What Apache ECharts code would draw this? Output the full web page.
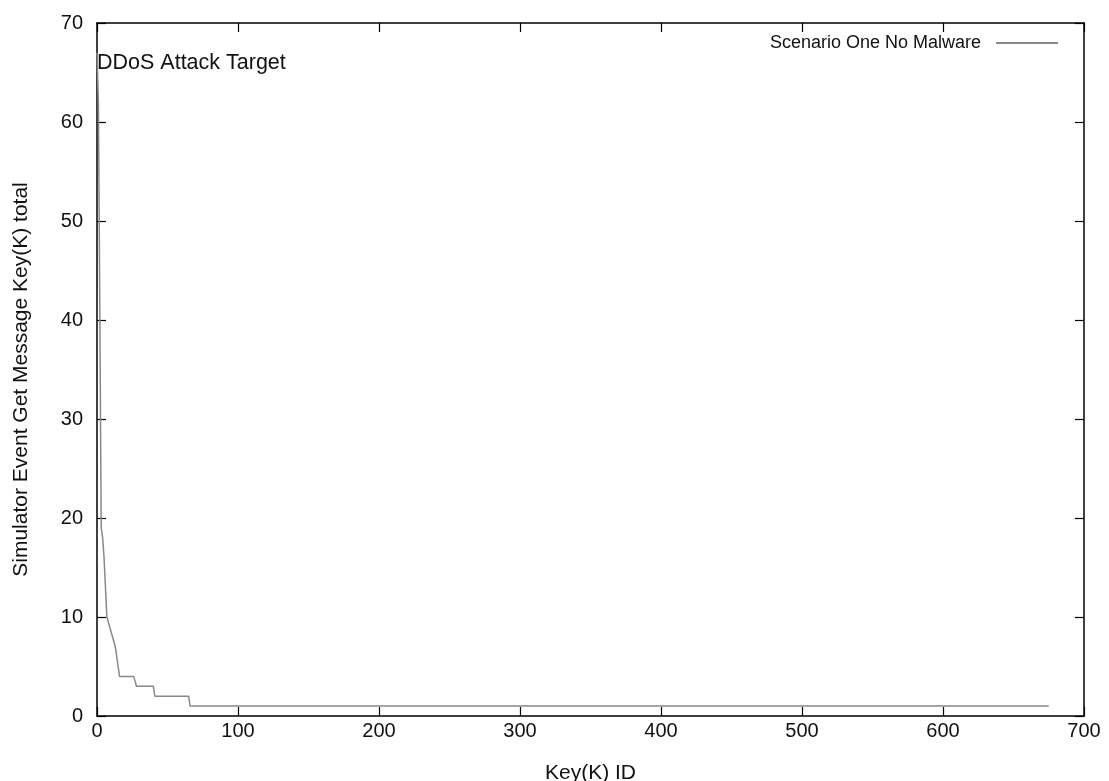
<!DOCTYPE html>
<html>
<head>
<meta charset="utf-8">
<script src="https://cdn.jsdelivr.net/npm/echarts@6/dist/echarts.min.js"></script>
<style>
  html, body { margin: 0; padding: 0; background: #fff; }
  #chart { width: 1109px; height: 781px; }
</style>
</head>
<body>
<div id="chart"></div>
<script>
// Message totals per key, sorted from most requested key downward.
const headTotals = [67, 62, 41, 19, 18, 16, 13, 10, 10, 9, 9, 8, 8, 7, 6, 5]; // keys 0..15
// Long tail as plateaus: each level holds until the given last key id.
const tailLevels = [4, 3, 2, 1];
const tailLastKey = [27, 40, 65, 675];

const seriesName = 'Scenario One No Malware';
const annotationText = 'DDoS Attack Target';
const annotationAt = [0, 66];
const xTicks = { min: 0, max: 700, interval: 100 };
const yTicks = { min: 0, max: 70, interval: 10 };

// Expand head + plateaus into one point per key id.
const points = headTotals.map((v, i) => [i, v]);
let key = headTotals.length;
tailLevels.forEach((lvl, r) => {
  for (; key <= tailLastKey[r]; key++) points.push([key, lvl]);
});

const FONT = 'Liberation Sans, Arial, Helvetica, sans-serif';
const TICK_FS = 20;
const NAME_FS = 21;
const black = '#000';
const ink = '#111';

const chart = echarts.init(document.getElementById('chart'), null, { renderer: 'canvas' });

const baseAxis = {
  axisLine: { show: true, onZero: false, lineStyle: { color: black, width: 1.5 } },
  axisTick: { show: true, inside: true, length: 9, lineStyle: { color: black, width: 1.2 } },
  splitLine: { show: false },
};

chart.setOption({
  animation: false,
  backgroundColor: '#fff',
  textStyle: { fontFamily: FONT },
  grid: { left: 97, right: 25, top: 23, bottom: 65, containLabel: false, outerBoundsMode: 'none' },
  legend: {
    data: [{ name: seriesName, icon: 'rect' }],
    right: 51,
    top: 34,
    padding: 0,
    align: 'right',
    itemWidth: 62,
    itemHeight: 2,
    itemGap: 0,
    textStyle: { fontFamily: FONT, fontSize: 18, color: ink, padding: [0, 10, 0, 0] },
    selectedMode: false,
  },
  xAxis: [
    Object.assign({}, baseAxis, {
      type: 'value', position: 'bottom',
      min: xTicks.min, max: xTicks.max, interval: xTicks.interval,
      name: 'Key(K) ID', nameLocation: 'middle', nameGap: 47,
      nameTextStyle: { fontFamily: FONT, fontSize: NAME_FS, color: ink },
      axisLabel: { margin: 5, fontFamily: FONT, fontSize: TICK_FS, color: ink },
    }),
    Object.assign({}, baseAxis, {
      type: 'value', position: 'top',
      min: xTicks.min, max: xTicks.max, interval: xTicks.interval,
      axisLabel: { show: false },
    }),
  ],
  yAxis: [
    Object.assign({}, baseAxis, {
      type: 'value', position: 'left',
      min: yTicks.min, max: yTicks.max, interval: yTicks.interval,
      name: 'Simulator Event Get Message Key(K) total', nameLocation: 'middle', nameGap: 65,
      nameTextStyle: { fontFamily: FONT, fontSize: NAME_FS, color: ink, padding: [0, 20, 0, 0] },
      axisLabel: { margin: 14, fontFamily: FONT, fontSize: TICK_FS, color: ink },
    }),
    Object.assign({}, baseAxis, {
      type: 'value', position: 'right',
      min: yTicks.min, max: yTicks.max, interval: yTicks.interval,
      axisLabel: { show: false },
    }),
  ],
  series: [{
    name: seriesName,
    type: 'line',
    xAxisIndex: 0,
    yAxisIndex: 0,
    data: points,
    showSymbol: false,
    symbol: 'none',
    color: '#888',
    lineStyle: { color: '#888', width: 1.5 },
    markPoint: {
      symbol: 'circle',
      symbolSize: 0,
      silent: true,
      data: [{ coord: annotationAt, value: annotationText }],
      label: {
        show: true,
        position: 'right',
        distance: 0,
        formatter: annotationText,
        fontFamily: FONT,
        fontSize: 21.5,
        color: ink,
      },
    },
  }],
});
</script>
</body>
</html>
